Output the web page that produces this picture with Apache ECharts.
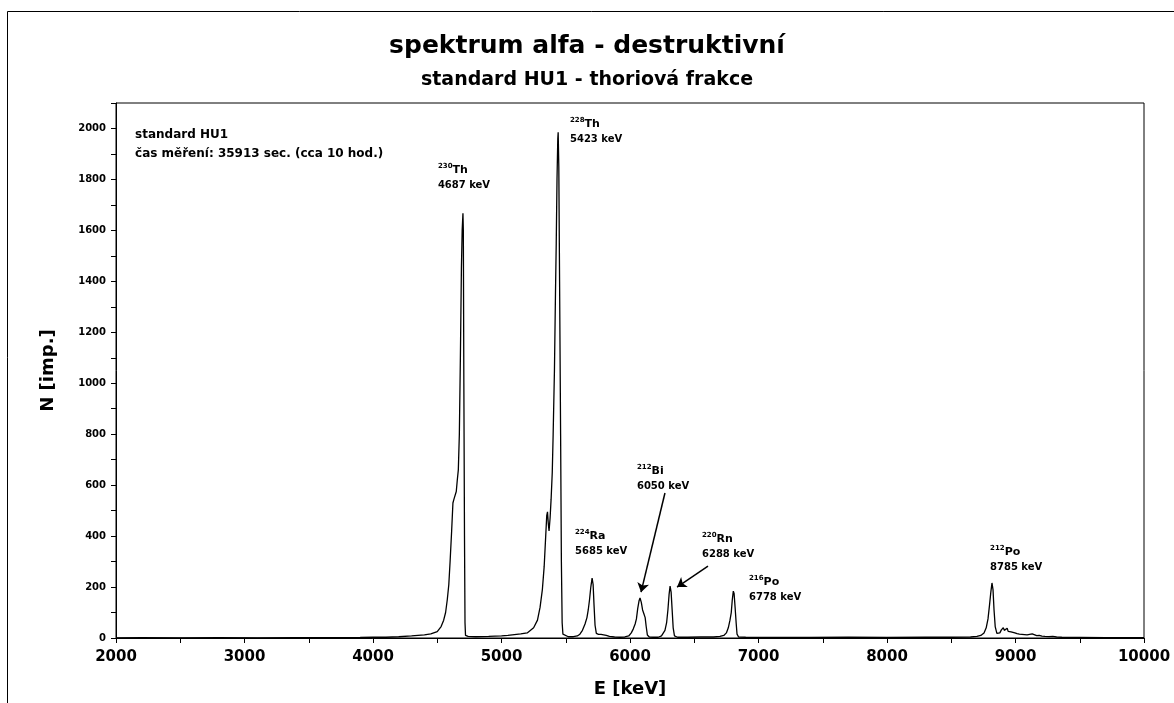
<!DOCTYPE html>
<html>
<head>
<meta charset="utf-8">
<script src="https://cdn.jsdelivr.net/npm/echarts/dist/echarts.min.js"></script>
<style>
  html, body { margin: 0; padding: 0; background: #fff; }
  #chart { width: 1174px; height: 703px; }
</style>
</head>
<body>
<div id="chart"></div>
<script>
// Alpha spectrum of the HU1 standard, thorium fraction: channel energy (keV) and counts
const energyKeV = [
  2000, 2200, 2500, 2800, 3100, 3400, 3700, 3900, 4000, 4100, 4200, 4300, 4350, 4400, 4450, 4500,
  4530, 4550, 4565, 4578, 4590, 4600, 4612, 4622, 4630, 4640, 4648, 4656, 4664, 4672, 4680, 4688,
  4694, 4700, 4703, 4707, 4712, 4716, 4720, 4740, 4800, 4900, 5000, 5050, 5100, 5150, 5200, 5250,
  5280, 5300, 5318, 5332, 5344, 5352, 5358, 5364, 5370, 5378, 5386, 5395, 5402, 5412, 5420, 5426,
  5432, 5438, 5441, 5446, 5452, 5460, 5466, 5472, 5478, 5490, 5520, 5560, 5590, 5610, 5630, 5650,
  5665, 5675, 5685, 5695, 5705, 5713, 5720, 5728, 5738, 5755, 5775, 5795, 5815, 5840, 5880, 5920,
  5960, 5990, 6010, 6025, 6040, 6050, 6060, 6070, 6078, 6088, 6098, 6108, 6118, 6126, 6135, 6150,
  6180, 6220, 6245, 6260, 6272, 6285, 6295, 6304, 6312, 6320, 6328, 6336, 6346, 6370, 6450, 6550,
  6650, 6700, 6730, 6750, 6765, 6778, 6788, 6796, 6804, 6810, 6818, 6826, 6833, 6845, 6900, 7100,
  7400, 7700, 8000, 8300, 8500, 8650, 8700, 8730, 8755, 8772, 8786, 8798, 8808, 8817, 8825, 8833,
  8842, 8855, 8866, 8878, 8890, 8897, 8905, 8913, 8920, 8927, 8935, 8943, 8952, 8965, 8980, 8995,
  9012, 9030, 9050, 9070, 9090, 9110, 9130, 9145, 9165, 9185, 9205, 9230, 9260, 9290, 9320, 9360,
  9420, 9500, 9700, 10000
];
const counts = [
  0, 1, 0, 1, 0, 1, 1, 2, 3, 3, 5, 8, 10, 12, 16, 25,
  45, 70, 100, 150, 210, 300, 420, 530, 545, 550, 575, 620, 660, 800, 1100, 1450,
  1600, 1667, 1600, 1000, 400, 60, 10, 6, 5, 6, 8, 10, 13, 16, 20, 40,
  70, 120, 190, 280, 400, 480, 495, 450, 420, 470, 545, 650, 800, 1050, 1350, 1550,
  1800, 1960, 1985, 1850, 1400, 800, 300, 60, 15, 8, 5, 5, 8, 15, 30, 55,
  80, 110, 150, 200, 235, 210, 130, 50, 18, 14, 14, 12, 10, 6, 4, 3,
  4, 8, 20, 35, 55, 75, 115, 145, 157, 140, 110, 95, 80, 45, 12, 4,
  3, 3, 8, 15, 30, 60, 110, 170, 204, 180, 110, 40, 8, 3, 3, 4,
  4, 6, 10, 20, 40, 70, 100, 150, 184, 175, 120, 60, 15, 4, 3, 2,
  2, 3, 2, 3, 3, 4, 6, 10, 20, 40, 75, 130, 180, 216, 190, 110,
  45, 18, 14, 20, 32, 26, 40, 30, 24, 36, 38, 26, 28, 24, 25, 20,
  17, 15, 14, 13, 12, 14, 16, 11, 9, 10, 7, 6, 5, 6, 4, 3,
  2, 2, 1, 1
];

// Identified alpha lines
const nuclideMass = ['230', '228', '224', '212', '220', '216', '212'];
const nuclideSymbol = ['Th', 'Th', 'Ra', 'Bi', 'Rn', 'Po', 'Po'];
const lineEnergy = [4687, 5423, 5685, 6050, 6288, 6778, 8785];

// Axis tick labels
const xTickLabels = [2000, 3000, 4000, 5000, 6000, 7000, 8000, 9000, 10000];
const yTickLabels = [0, 200, 400, 600, 800, 1000, 1200, 1400, 1600, 1800, 2000];

// Measurement note
const noteLines = ['standard HU1', 'čas měření: 35913 sec. (cca 10 hod.)'];

// Annotation placement, in axis units (keV, counts)
const labelAnchors = [
  [4505, 1835], [5533, 2016], [5572, 400], [6054, 655], [6560, 388], [6926, 220], [8802, 337]
];
const noteAnchor = [2148, 1976];
const arrowFrom = [[6272, 569], [6607, 282]];
const arrowTo = [[6086, 180], [6366, 200]];

const FONT = '"DejaVu Sans", sans-serif';
const chart = echarts.init(document.getElementById('chart'), null, { renderer: 'canvas' });

const option = {
  animation: false,
  backgroundColor: '#fff',
  title: [
    {
      text: 'spektrum alfa - destruktivní',
      left: 'center', top: 29,
      textStyle: { fontFamily: FONT, fontWeight: 'bold', fontSize: 25, color: '#000' }
    },
    {
      text: 'standard HU1 - thoriová frakce',
      left: 'center', top: 66,
      textStyle: { fontFamily: FONT, fontWeight: 'bold', fontSize: 19, color: '#000' }
    }
  ],
  grid: {
    left: 116, right: 30, top: 103, bottom: 65,
    show: true, borderColor: '#000', borderWidth: 1,
    outerBoundsMode: 'none'
  },
  xAxis: {
    type: 'value', min: 2000, max: 10000, interval: 500,
    name: 'E [keV]', nameLocation: 'middle', nameGap: 42,
    nameTextStyle: { fontFamily: FONT, fontWeight: 'bold', fontSize: 18, color: '#000' },
    axisLine: { show: true, onZero: false, lineStyle: { color: '#000', width: 1 } },
    axisTick: { show: true, length: 5, lineStyle: { color: '#000', width: 1 } },
    axisLabel: {
      margin: 12, fontFamily: FONT, fontWeight: 'bold', fontSize: 15, color: '#000',
      formatter: v => (xTickLabels.indexOf(v) >= 0 ? String(v) : '')
    },
    splitLine: { show: false }
  },
  yAxis: {
    type: 'value', min: 0, max: 2100, interval: 100,
    name: 'N [imp.]', nameLocation: 'middle', nameGap: 59, nameRotate: 90,
    nameTextStyle: { fontFamily: FONT, fontWeight: 'bold', fontSize: 18, color: '#000' },
    axisLine: { show: true, lineStyle: { color: '#000', width: 1 } },
    axisTick: { show: true, length: 5, lineStyle: { color: '#000', width: 1 } },
    axisLabel: {
      margin: 10, fontFamily: FONT, fontWeight: 'bold', fontSize: 10, color: '#000',
      formatter: v => (yTickLabels.indexOf(v) >= 0 ? String(v) : '')
    },
    splitLine: { show: false }
  },
  series: [{
    type: 'line',
    data: energyKeV.map((e, i) => [e, counts[i]]),
    showSymbol: false,
    symbol: 'none',
    lineStyle: { color: '#000', width: 1.3 },
    silent: true,
    markLine: {
      silent: true,
      symbol: ['none', 'arrow'],
      symbolSize: 9,
      label: { show: false },
      lineStyle: { color: '#000', width: 1.5, type: 'solid' },
      data: arrowFrom.map((p, i) => [{ coord: p }, { coord: arrowTo[i] }])
    }
  }]
};
chart.setOption(option);

// Peak annotations and the measurement note, placed through the grid's coordinate system
const LINE_H = 15;
const graphics = [{
  type: 'rect', silent: true,
  shape: { x: 7.5, y: 11.5, width: 1200, height: 720 },
  style: { fill: 'none', stroke: '#000', lineWidth: 1 }
}];
labelAnchors.forEach((a, i) => {
  const p = chart.convertToPixel({ gridIndex: 0 }, a);
  graphics.push({
    type: 'text', silent: true,
    x: p[0], y: p[1] - LINE_H / 2,
    style: {
      text: '{s|' + nuclideMass[i] + '}{e|' + nuclideSymbol[i] + '}\n{k|' + lineEnergy[i] + ' keV}',
      fill: '#000', align: 'left', verticalAlign: 'top',
      font: 'bold 10px ' + FONT,
      rich: {
        s: { fontFamily: FONT, fontWeight: 'bold', fontSize: 7, lineHeight: LINE_H, verticalAlign: 'top', fill: '#000' },
        e: { fontFamily: FONT, fontWeight: 'bold', fontSize: 11, lineHeight: LINE_H, fill: '#000' },
        k: { fontFamily: FONT, fontWeight: 'bold', fontSize: 10, lineHeight: LINE_H, fill: '#000' }
      }
    }
  });
});
const np = chart.convertToPixel({ gridIndex: 0 }, noteAnchor);
noteLines.forEach((t, i) => {
  graphics.push({
    type: 'text', silent: true,
    x: np[0], y: np[1] + i * 19,
    style: {
      text: t, fill: '#000', align: 'left', verticalAlign: 'middle',
      font: 'bold 12px ' + FONT
    }
  });
});
chart.setOption({ graphic: graphics });
</script>
</body>
</html>
